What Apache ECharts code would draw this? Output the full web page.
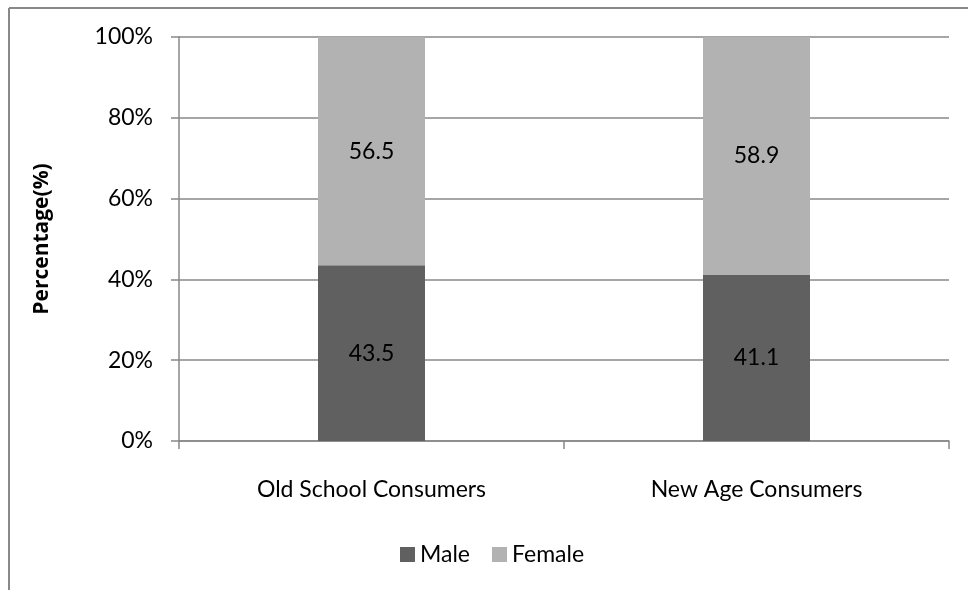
<!DOCTYPE html>
<html>
<head>
<meta charset="utf-8">
<style>
  html, body { margin: 0; padding: 0; background: #fff; }
  #chart { width: 968px; height: 590px; }
</style>
<script src="https://cdn.jsdelivr.net/npm/echarts@6/dist/echarts.min.js"></script>
</head>
<body>
<div id="chart"></div>
<script>
// Gender split of the two consumer groups (percent)
const categories = ['Old School Consumers', 'New Age Consumers'];
const maleShare = [43.5, 41.1];
const femaleShare = [56.5, 58.9];
const yTicks = [0, 20, 40, 60, 80, 100];

const FONT = 'Lato, "Open Sans", sans-serif';
const AXIS_GRAY = '#888888';
const FS = 23;

const chart = echarts.init(document.getElementById('chart'), null, { renderer: 'canvas' });

const labelStyle = {
  show: true,
  position: 'inside',
  color: '#000',
  fontFamily: FONT,
  fontSize: FS,
  formatter: p => p.value.toFixed(1)
};

chart.setOption({
  animation: false,
  backgroundColor: '#fff',
  textStyle: { fontFamily: FONT },
  graphic: [
    // outer chart frame (left and top edges)
    { type: 'line', shape: { x1: 9, y1: 8, x2: 9, y2: 600 }, style: { stroke: AXIS_GRAY, lineWidth: 2 } },
    { type: 'line', shape: { x1: 9, y1: 8, x2: 980, y2: 8 }, style: { stroke: AXIS_GRAY, lineWidth: 2 } }
  ],
  grid: { left: 179, right: 19, top: 37, bottom: 149, containLabel: false },
  legend: {
    top: 538,
    left: 395,
    itemWidth: 15,
    itemHeight: 15,
    itemGap: 22,
    icon: 'rect',
    textStyle: { fontFamily: FONT, fontSize: FS, color: '#000' },
    data: ['Male', 'Female']
  },
  xAxis: {
    type: 'category',
    data: categories,
    axisLine: { lineStyle: { color: AXIS_GRAY, width: 1.5 } },
    axisTick: { show: true, alignWithLabel: false, length: 8, lineStyle: { color: AXIS_GRAY, width: 1.5 } },
    axisLabel: { color: '#000', fontFamily: FONT, fontSize: FS, margin: 37 }
  },
  yAxis: {
    type: 'value',
    min: yTicks[0],
    max: yTicks[yTicks.length - 1],
    interval: 20,
    name: 'Percentage(%)',
    nameLocation: 'middle',
    nameRotate: 90,
    nameGap: 126,
    nameTextStyle: { fontFamily: '"Open Sans", sans-serif', fontSize: 21, fontWeight: 'bold', color: '#000' },
    axisLine: { show: true, lineStyle: { color: AXIS_GRAY, width: 1.5 } },
    axisTick: { show: true, inside: false, length: 8, lineStyle: { color: AXIS_GRAY, width: 1.5 } },
    axisLabel: { color: '#000', fontFamily: FONT, fontSize: FS, margin: 26, formatter: v => v + '%' },
    splitLine: { show: true, lineStyle: { color: AXIS_GRAY, width: 1.5 } }
  },
  series: [
    {
      name: 'Male',
      type: 'bar',
      stack: 'share',
      barWidth: 107,
      data: maleShare,
      itemStyle: { color: '#606060' },
      label: labelStyle
    },
    {
      name: 'Female',
      type: 'bar',
      stack: 'share',
      barWidth: 107,
      data: femaleShare,
      itemStyle: { color: '#b2b2b2' },
      label: labelStyle
    }
  ]
});
</script>
</body>
</html>
